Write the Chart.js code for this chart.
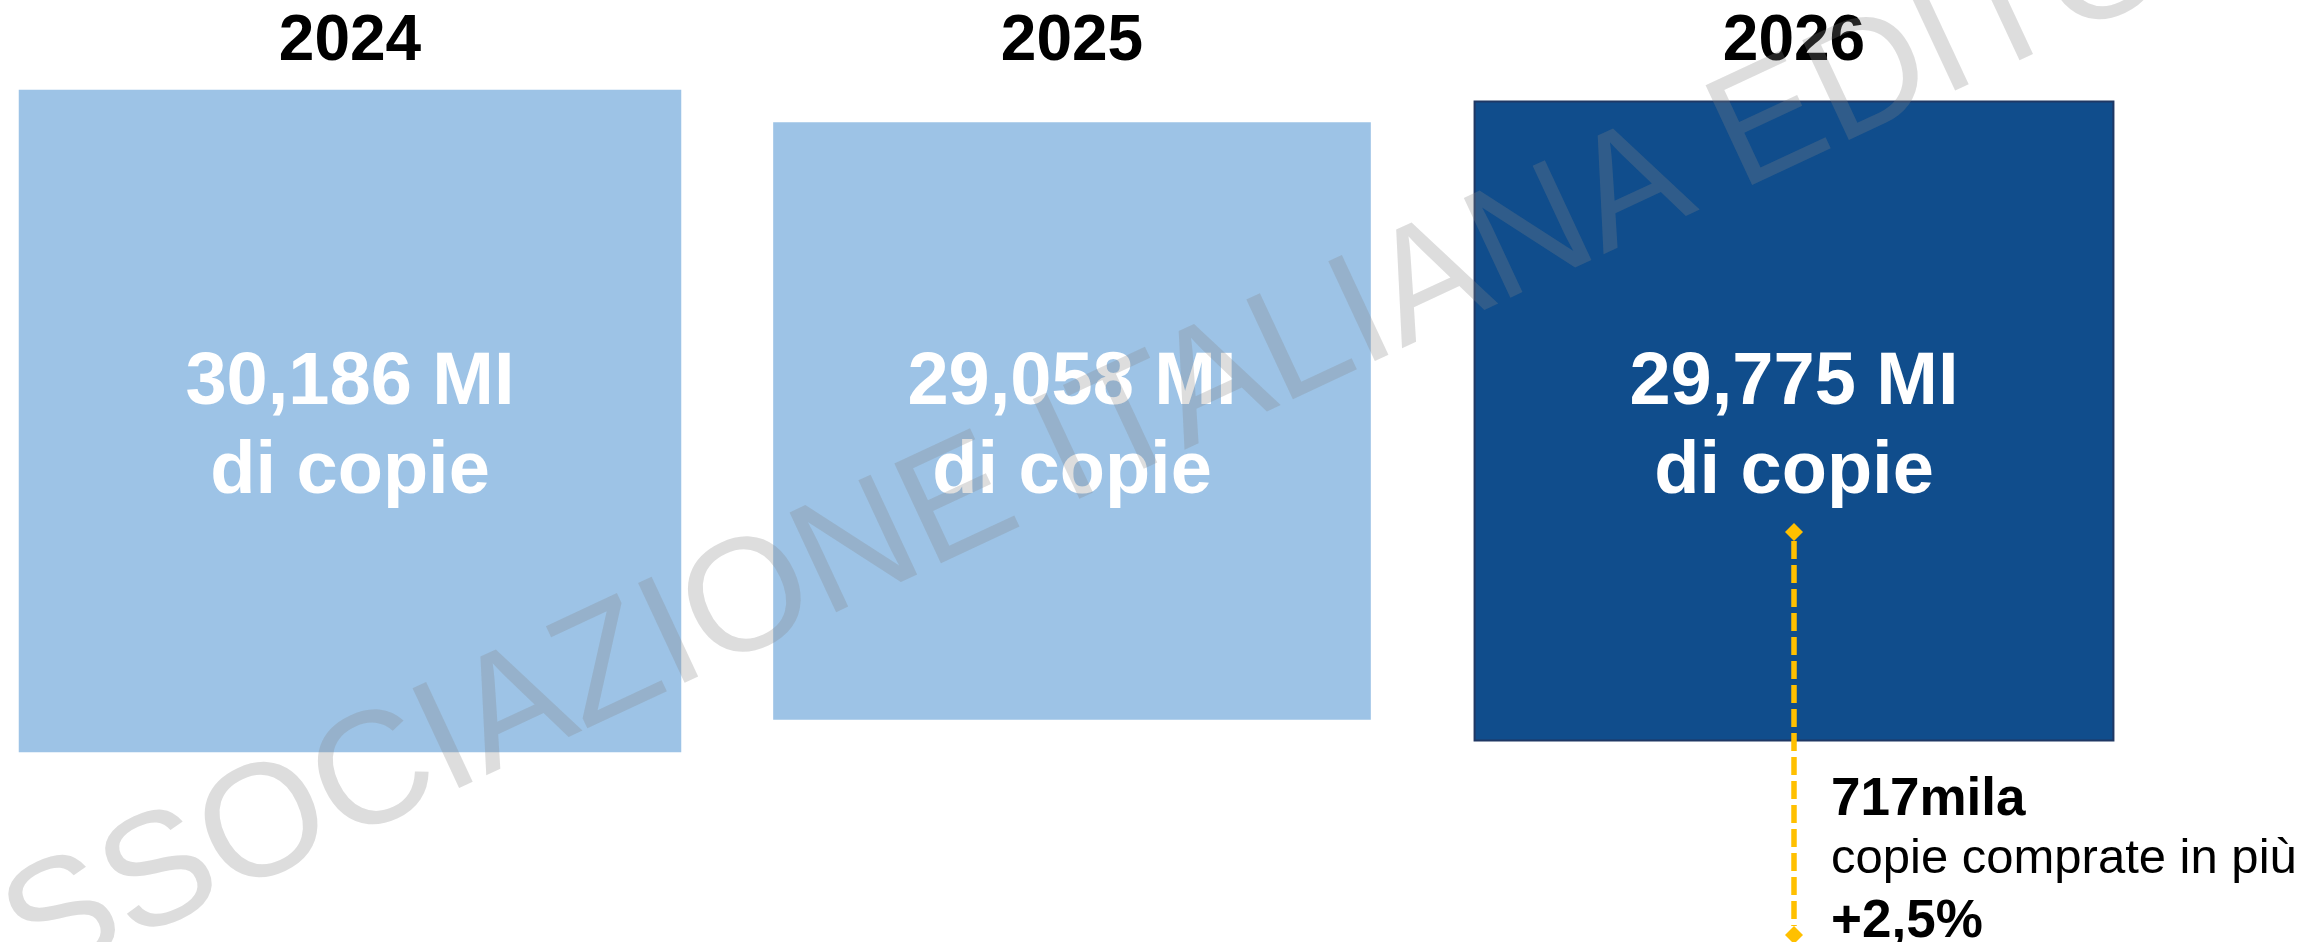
<!DOCTYPE html>
<html>
<head>
<meta charset="utf-8">
<script src="https://cdn.jsdelivr.net/npm/chart.js@4.4.1/dist/chart.umd.min.js"></script>
<style>
  html, body { margin: 0; padding: 0; background: #fff; }
  #wrap { width: 2308px; height: 942px; position: relative; }
</style>
</head>
<body>
<div id="wrap"><canvas id="canvas"></canvas></div>
<script>
// copie vendute (milioni) per anno
var years = ['2024', '2025', '2026'];
var copies = [30.186, 29.058, 29.775];
var valueLabels = ['30,186 MI', '29,058 MI', '29,775 MI'];
var unitLabel = 'di copie';
var gainLines = ['717mila', 'copie comprate in più', '+2,5%'];
var watermark = 'ASSOCIAZIONE ITALIANA EDITORI';

var FONT = '"Liberation Sans", Arial, Helvetica, sans-serif';
var LIGHT = '#9DC3E6';
var DARK = '#104D8C';
var GOLD = '#FFC000';

// lato del quadrato in px a partire dal valore
var SIDE_SLOPE = 57.5;
var SIDE_BASE = 18.664;
function sideFor(v) {
  return SIDE_SLOPE * (v - SIDE_BASE);
}

var squareLabels = {
  id: 'squareLabels',
  afterDatasetsDraw: function (chart) {
    var ctx = chart.ctx;
    var pts = chart.getDatasetMeta(0).data;
    ctx.save();
    ctx.fillStyle = '#fff';
    ctx.textAlign = 'center';
    ctx.textBaseline = 'alphabetic';
    ctx.font = 'bold 74px ' + FONT;
    pts.forEach(function (p, i) {
      ctx.fillText(valueLabels[i], p.x, p.y - 17);
      ctx.fillText(unitLabel, p.x, p.y + 72);
    });
    ctx.restore();

    // variazione 2026
    var last = pts[pts.length - 1];
    var x = last.x, y0 = last.y + 111, y1 = last.y + 514;
    ctx.save();
    ctx.strokeStyle = GOLD;
    ctx.fillStyle = GOLD;
    ctx.lineWidth = 5.5;
    ctx.setLineDash([18, 6]);
    ctx.beginPath();
    ctx.moveTo(x, y0 + 9);
    ctx.lineTo(x, y1 - 9);
    ctx.stroke();
    ctx.setLineDash([]);
    [y0, y1].forEach(function (yy) {
      ctx.beginPath();
      ctx.moveTo(x, yy - 9);
      ctx.lineTo(x + 9, yy);
      ctx.lineTo(x, yy + 9);
      ctx.lineTo(x - 9, yy);
      ctx.closePath();
      ctx.fill();
    });
    ctx.fillStyle = '#000';
    ctx.textAlign = 'left';
    ctx.textBaseline = 'alphabetic';
    ctx.font = 'bold 53px ' + FONT;
    ctx.fillText(gainLines[0], x + 37, last.y + 394);
    ctx.font = '49px ' + FONT;
    ctx.fillText(gainLines[1], x + 37, last.y + 452);
    ctx.font = 'bold 53px ' + FONT;
    ctx.fillText(gainLines[2], x + 37, last.y + 516);
    ctx.restore();
  },
  afterDraw: function (chart) {
    var ctx = chart.ctx;
    ctx.save();
    ctx.translate(-62, 1031);
    ctx.rotate(-25 * Math.PI / 180);
    ctx.font = '160px ' + FONT;
    ctx.fillStyle = 'rgba(132,132,132,0.28)';
    ctx.textAlign = 'left';
    ctx.textBaseline = 'alphabetic';
    ctx.fillText(watermark, 0, 0);
    ctx.restore();
  }
};

var ctx = document.getElementById('canvas').getContext('2d');
var chart = new Chart(ctx, {
  type: 'scatter',
  data: {
    datasets: [{
      data: years.map(function (y) { return { x: y, y: 0 }; }),
      clip: false,
      pointStyle: 'rect',
      pointRadius: function (c) { return sideFor(copies[c.dataIndex]) / Math.SQRT2; },
      pointHoverRadius: function (c) { return sideFor(copies[c.dataIndex]) / Math.SQRT2; },
      pointBackgroundColor: [LIGHT, LIGHT, DARK],
      pointBorderColor: [LIGHT, LIGHT, '#1F3864'],
      pointBorderWidth: [0, 0, 2]
    }]
  },
  options: {
    responsive: true,
    maintainAspectRatio: false,
    animation: false,
    events: [],
    layout: {
      autoPadding: false,
      padding: { left: 350, right: 514, top: 0, bottom: 180 }
    },
    plugins: {
      legend: { display: false },
      tooltip: { enabled: false }
    },
    scales: {
      x: {
        type: 'category',
        labels: years,
        position: 'top',
        offset: false,
        grid: { display: false },
        border: { display: false },
        ticks: {
          color: '#000',
          padding: -9,
          autoSkip: false,
          maxRotation: 0,
          font: { family: FONT, size: 64, weight: 'bold' }
        },
        afterFit: function (scale) { scale.height = 80; }
      },
      y: {
        display: false,
        min: -1,
        max: 1
      }
    }
  },
  plugins: [squareLabels]
});
</script>
</body>
</html>
